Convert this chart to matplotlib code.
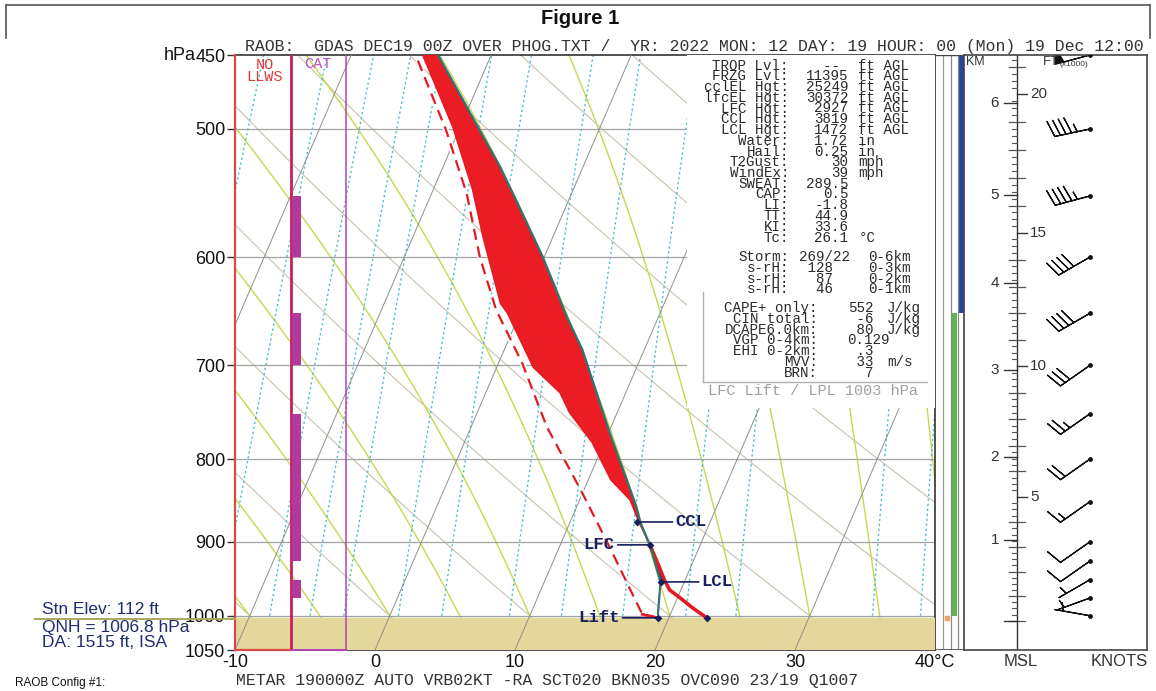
import numpy as np
import matplotlib
matplotlib.use("Agg")
import matplotlib.pyplot as plt
from matplotlib.transforms import Affine2D, blended_transform_factory
from matplotlib.font_manager import FontProperties
import matplotlib.patheffects as pe
from matplotlib.ticker import NullLocator

# ================= data =================
# environmental temperature profile (hPa, degC)
ENV_P = [1003, 989, 975, 964, 950, 934, 921, 904, 875, 848, 824, 781, 749, 728,
         702, 650, 641, 583, 545, 499, 450]
ENV_T = [22.7, 21.4, 20.2, 19.2, 18.5, 17.8, 17.2, 16.4, 14.9, 13.6, 11.6, 9.1,
         6.6, 5.3, 2.6, -0.9, -1.7, -5.0, -7.2, -10.5, -14.9]
# dew point profile
DEW_P = [1003, 998, 964, 907, 840, 764, 698, 647, 600, 548, 501, 450]
DEW_T = [19.2, 18.0, 16.4, 13.6, 10.0, 5.4, 1.7, -1.8, -4.6, -7.5, -10.9, -15.4]
# lifted parcel from the LCL upward
PAR_P = [953, 904, 875, 857, 771, 685, 654, 600, 559, 528, 485, 450]
PAR_T = [18.3, 16.4, 15.0, 14.3, 10.1, 5.6, 3.5, -0.1, -3.3, -5.9, -10.1, -13.8]
# key levels (hPa, degC)
LVL_NAMES = ["CCL", "LFC", "LCL", "Lift"]
LVL_P = [875, 904, 953, 1003]
LVL_T = [14.8, 16.4, 18.3, 19.2]
SFC_P, SFC_T = 1003, 22.7

# pressure axis / temperature axis
P_TICKS = [450, 500, 600, 700, 800, 900, 1000, 1050]
T_TICKS = [-10, 0, 10, 20, 30, 40]
T_LABELS = ["-10", "0", "10", "20", "30", "40°C"]

# background isopleths
ISOTHERMS = list(range(-100, 50, 10))
DRY_THETA = list(range(-40, 130, 10))          # degC at 1000 hPa
MOIST_T1000 = [-10, -5, 0, 5, 10, 15, 20, 25, 30, 35, 40]
MIX_RATIOS = [1, 1.5, 2, 2.5, 3, 4, 5, 7, 9, 12, 16, 20, 36, 44]

# LLWS / CAT columns (degC at the panel bottom)
LLWS_X = (-10.0, -6.0)
CAT_X = (-6.0, -2.07)
CAT_BAR_X = (-5.93, -5.29)
CAT_BOT = [600, 700, 925, 975]
CAT_TOP = [550, 650, 750, 950]

# height scale (km MSL -> hPa)
KM_H = [0, 1, 2, 3, 4, 5, 6]
KM_P = [1007, 898, 798, 705, 623, 549, 482]

# winds
WIND_P = [450, 500, 550, 600, 650, 700, 750, 800, 850, 900, 925, 950, 975, 1000]
WIND_DIR = [255, 258, 255, 240, 240, 235, 235, 235, 235, 235, 235, 240, 250, 280]
WIND_SPD = [50, 45, 45, 40, 40, 30, 25, 20, 15, 10, 10, 5, 5, 5]

# side bars (hPa)
BLUE_BAR = (650, 450)
GREEN_BAR = (1000, 650)

# stats text: labels / values / units
S1_LABELS = ["TROP Lvl:", "FRZG Lvl:", "cclEL Hgt:", "lfcEL Hgt:", "LFC Hgt:",
             "CCL Hgt:", "LCL Hgt:", "Water:", "Hail:", "T2Gust:", "WindEx:",
             "SWEAT:", "CAP:", "LI:", "TT:", "KI:", "Tc:"]
S1_VALUES = ["-- ", "11395", "25249", "30372", "2927", "3819", "1472", "1.72",
             "0.25", "30", "39", "289.5", "0.5", "-1.8", "44.9", "33.6", "26.1"]
S1_UNITS = ["ft AGL"] * 7 + ["in", "in", "mph", "mph", "", "", "", "", "", "°C"]
S2_LABELS = ["Storm:", "s-rH:", "s-rH:", "s-rH:"]
S2_VALUES = ["269/22", " 128", "  87", "  46"]
S2_UNITS = ["0-6km", "0-3km", "0-2km", "0-1km"]
S3_LABELS = ["CAPE+ only:", "CIN total:", "DCAPE6.0km:", "VGP 0-4km:",
             "EHI 0-2km:", "MVV:", "BRN:"]
S3_VALUES = ["552", " -6", " 80", "0.129", " .3", " 33", "  7"]
S3_UNITS = ["J/kg", "J/kg", "J/kg", "", "", "m/s", ""]

HEADER = ("RAOB:  GDAS DEC19 00Z OVER PHOG.TXT /  YR: 2022 MON: 12 DAY: 19 "
          "HOUR: 00 (Mon) 19 Dec 12:00")
METAR = "METAR 190000Z AUTO VRB02KT -RA SCT020 BKN035 OVC090 23/19 Q1007"

# ================= thermodynamics for reference lines =================
Rd, Cp, Lv, EPS = 287.04, 1005.7, 2.501e6, 0.622


def sat_vp(tc):
    return 6.112 * np.exp(17.67 * tc / (tc + 243.5))


def dT_dlnp(T, p):
    e = sat_vp(T - 273.15)
    rs = EPS * e / (p - e)
    return (Rd * T + Lv * rs) / (Cp + Lv * Lv * rs * EPS / (Rd * T * T))


def moist_adiabat(t1000):
    out = []
    for pend in (440.0, 1060.0):
        ps = np.geomspace(1000.0, pend, 160)
        T = t1000 + 273.15
        Ts = [T]
        for i in range(len(ps) - 1):
            h = np.log(ps[i + 1] / ps[i])
            k1 = dT_dlnp(T, ps[i])
            k2 = dT_dlnp(T + h * k1 / 2, ps[i] * np.exp(h / 2))
            T = T + h * k2
            Ts.append(T)
        out.append((ps, np.array(Ts) - 273.15))
    p = np.concatenate([out[1][0][::-1], out[0][0][1:]])
    t = np.concatenate([out[1][1][::-1], out[0][1][1:]])
    return p, t


# ================= figure =================
W, H = 1156, 691
fig = plt.figure(figsize=(W / 100, H / 100), dpi=100)
fig.patch.set_facecolor("white")
MONO = ["Liberation Mono", "DejaVu Sans Mono"]
SANS = ["Liberation Sans", "DejaVu Sans"]
renderer = fig.canvas.get_renderer()
CW = 9.9   # character pitch of the reference's monospaced text (px)


def ptext(x, y, s, **kw):
    return fig.text(x / W, 1 - y / H, s, **kw)


def block(x, y_first, lines, step, size, color, ha="left", **kw):
    """Multi-line monospace block; y_first = centre (cap middle) of line 1."""
    fp = FontProperties(family=MONO, size=size)
    _, lp_h, lp_d = renderer.get_text_width_height_descent("lp", fp, ismath=False)
    _, cap_h, _ = renderer.get_text_width_height_descent("H", fp, ismath=False)
    asc = lp_h - lp_d
    ls = (step - lp_d) / asc
    top = y_first - cap_h / 2 - (asc - cap_h)
    return fig.text(x / W, 1 - top / H, "\n".join(lines), ha=ha, va="top",
                    multialignment=ha, fontproperties=fp, color=color,
                    linespacing=ls, **kw)


def axes_px(x0, y0, x1, y1):
    return fig.add_axes([x0 / W, 1 - y1 / H, (x1 - x0) / W, (y1 - y0) / H])


ax = axes_px(235, 55, 935, 650)
ax.set_yscale("log")
ax.set_ylim(1050, 450)
ax.set_xlim(-10, 40)
ax.set_autoscale_on(False)

bb = ax.bbox
SKEW_C = 18.3   # lean of the isotherms (degC) from bottom to top of the panel
shear = SKEW_C / 50.0 * bb.width / bb.height
skew = ax.transData + Affine2D().translate(0, -bb.y0).skew(np.arctan(shear), 0).translate(0, bb.y0)
blend = blended_transform_factory(ax.transAxes, ax.transData)

p_full = np.geomspace(1050, 440, 200)
p_mix = np.geomspace(1000, 440, 120)

# isotherms
for t in ISOTHERMS:
    ax.plot([t, t], [1050, 440], transform=skew, color="#8f8f8f", lw=0.7, zorder=4)
# dry adiabats
for th in DRY_THETA:
    tt = (th + 273.15) * (p_full / 1000.0) ** (Rd / Cp) - 273.15
    ax.plot(tt, p_full, transform=skew, color="#cbc2ad", lw=0.8, zorder=1)
# moist adiabats
for t0 in MOIST_T1000:
    pp, tt = moist_adiabat(t0)
    ax.plot(tt, pp, transform=skew, color="#c6d84c", lw=1.0, zorder=1.2)
# mixing ratio lines
for w in MIX_RATIOS:
    e = w / 1000.0 * p_mix / (EPS + w / 1000.0)
    L = np.log(e / 6.112)
    td = 243.5 * L / (17.67 - L)
    ax.plot(td, p_mix, transform=skew, color="#4dbdd0", lw=1.0,
            dashes=(1.6, 2.0), zorder=1.4)

# isobars
for p in [500, 600, 700, 800, 900, 1000]:
    ax.axhline(p, color="#a3a3a3", lw=0.9, zorder=2)

# ground
ax.axhspan(1050, SFC_P, color="#e3d79c", zorder=3)

# white area behind the text block
box_bottom_p = 450 * np.exp((408 - 55) / 595 * np.log(1050 / 450))
ax.fill_between([(687 - 235) / 700, 1.0], box_bottom_p, 450, transform=blend,
                color="white", zorder=4.5, lw=0)

# LLWS / CAT columns
ax.plot([LLWS_X[0]] * 2, [1050, 450], color="#d84a4a", lw=1.6, zorder=6, clip_on=False)
ax.plot([LLWS_X[1]] * 2, [1050, 450], color="#c8205a", lw=2.0, zorder=6)
ax.plot([CAT_X[1]] * 2, [1050, 450], color="#b443b4", lw=1.1, zorder=6)
ax.plot(LLWS_X, [1050, 1050], color="#d84a4a", lw=1.6, zorder=6, clip_on=False)
ax.plot(CAT_X, [1050, 1050], color="#b443b4", lw=1.4, zorder=6, clip_on=False)
for pb, pt in zip(CAT_BOT, CAT_TOP):
    ax.fill_betweenx([pb, pt], CAT_BAR_X[0], CAT_BAR_X[1], color="#b2399e",
                     lw=0, zorder=6)

# CAPE (red) and CIN (dark) areas
env_p = np.array(ENV_P, float)
env_t = np.array(ENV_T, float)
par_p = np.array(PAR_P, float)
par_t = np.array(PAR_T, float)
up = env_p <= LVL_P[1]
cape_p = np.concatenate([env_p[up], par_p[par_p <= LVL_P[1]][::-1]])
cape_t = np.concatenate([env_t[up], par_t[par_p <= LVL_P[1]][::-1]])
ax.fill(cape_t, cape_p, transform=skew, color="#ec1c24", lw=0, zorder=7)
cin = (env_p < LVL_P[2]) & (env_p > LVL_P[1])
cin_p = np.concatenate([[LVL_P[2]], env_p[cin], [LVL_P[1]]])
cin_t = np.concatenate([[LVL_T[2]], env_t[cin], [LVL_T[1]]])
ax.fill(cin_t, cin_p, transform=skew, color="#25408a", lw=0, zorder=7)

# environment temperature
ax.plot(env_t[env_p >= LVL_P[1]], env_p[env_p >= LVL_P[1]], transform=skew,
        color="#e31a22", lw=2.6, zorder=8, solid_capstyle="round")
ax.plot(env_t[up], env_p[up], transform=skew, color="#e31a22", lw=1.0, zorder=8)
# parcel
ax.plot(par_t, par_p, transform=skew, color="#2f7475", lw=1.6, zorder=8.5)
ax.plot([LVL_T[3], LVL_T[2]], [LVL_P[3], LVL_P[2]], transform=skew,
        color="#2f7475", lw=1.6, zorder=8.5)
# dew point (dashed)
ax.plot(DEW_T, DEW_P, transform=skew, color="#e31a22", lw=1.6,
        dashes=(5, 3), zorder=9,
        path_effects=[pe.Stroke(linewidth=4.0, foreground="white"), pe.Normal()])
ax.plot(DEW_T[:2], DEW_P[:2], transform=skew, color="#e31a22", lw=2.0, zorder=9)

# markers and labels for key levels
navy = "#17205c"
ax.scatter(LVL_T + [SFC_T], LVL_P + [SFC_P], transform=skew, s=16,
           color=navy, zorder=11, marker="D", linewidths=0)
offs = {"CCL": (38, 0), "LFC": (-35, 0), "LCL": (41, 0), "Lift": (-38, 0)}
for name, p, t in zip(LVL_NAMES, LVL_P, LVL_T):
    dx, dy = offs[name]
    ax.annotate(name, xy=(t, p), xycoords=skew, xytext=(dx, dy),
                textcoords="offset pixels", ha="left" if dx > 0 else "right",
                va="center", family=MONO, fontsize=12.5, fontweight="bold",
                color=navy, zorder=12,
                arrowprops=dict(arrowstyle="-", color=navy, lw=1.2,
                                shrinkA=0, shrinkB=0))

# axes styling
for s in ["top", "bottom", "right"]:
    ax.spines[s].set_color("#333333")
    ax.spines[s].set_linewidth(1.2)
ax.spines["left"].set_visible(False)
ax.set_yticks(P_TICKS)
ax.set_yticklabels([str(p) for p in P_TICKS], family=SANS, fontsize=13,
                   color="#111111")
ax.yaxis.set_minor_locator(NullLocator())
ax.tick_params(axis="y", length=6, width=1.0, pad=1, color="#333333")
ax.set_xticks(T_TICKS)
ax.set_xticklabels(T_LABELS, family=SANS, fontsize=13, color="#111111")
ax.tick_params(axis="x", length=0, pad=3)

# ================= side strips =================
axs = axes_px(936, 55, 964, 650)
axs.set_yscale("log")
axs.set_ylim(1050, 450)
axs.set_xlim(0, 28)
axs.axis("off")
for xv, col in [(7, "#9a9a9a"), (15, "#8a8a8a"), (22, "#8a8a8a")]:
    axs.axvline(xv, color=col, lw=0.9)
axs.fill_between([22, 28], BLUE_BAR[0], BLUE_BAR[1], color="#2447a0", lw=0)
axs.fill_between([15, 21], GREEN_BAR[0], GREEN_BAR[1], color="#5cb84d", lw=0)
axs.scatter([11], [SFC_P], s=8, color="#f2a16a", marker="s", zorder=5)
axs.axhline(1050, color="#444444", lw=1.2)
axs.axhline(450, color="#444444", lw=1.0)

# ================= height / wind panel =================
axw = axes_px(964, 55, 1147, 650)
axw.set_yscale("log")
axw.set_ylim(1050, 450)
axw.set_xlim(0, 183)
axw.set_xticks([])
axw.set_yticks([])
axw.yaxis.set_minor_locator(NullLocator())
for s in axw.spines.values():
    s.set_color("#444444")
    s.set_linewidth(1.2)

AX_X = 53
axw.axvline(AX_X, color="#333333", lw=1.0)
lnp = np.log(np.array(KM_P, float))


def h2p(hkm):
    hkm = np.asarray(hkm, float)
    slope_hi = (lnp[-1] - lnp[-2]) / (KM_H[-1] - KM_H[-2])
    v = np.interp(hkm, KM_H, lnp)
    v = np.where(hkm > KM_H[-1], lnp[-1] + (hkm - KM_H[-1]) * slope_hi, v)
    return np.exp(v)


ft_all = np.arange(0, 21500, 250)
for ft in ft_all:
    p = float(h2p(ft * 0.3048 / 1000))
    if ft % 5000 == 0 and ft > 0:
        axw.plot([AX_X, AX_X + 10], [p, p], color="#333333", lw=1.0)
        axw.text(AX_X + 13, p, str(ft // 1000), ha="left", va="center",
                 family=SANS, fontsize=11, color="#333333")
    elif ft % 1000 == 0:
        axw.plot([AX_X - 8, AX_X + 8], [p, p], color="#555555", lw=0.9)
    else:
        axw.plot([AX_X - 5, AX_X], [p, p], color="#555555", lw=0.8)
for h, p in zip(KM_H, KM_P):
    axw.plot([AX_X - 13, AX_X], [p, p], color="#333333", lw=1.0)
    if h > 0:
        axw.text(AX_X - 18, p, str(h), ha="right", va="center", family=SANS,
                 fontsize=11, color="#333333")

# wind barbs
wd = np.radians(np.array(WIND_DIR, float))
ws = np.array(WIND_SPD, float)
U = -ws * np.sin(wd)
V = -ws * np.cos(wd)
bx = np.full(len(WIND_P), 126.0)
axw.barbs(bx, WIND_P, U, V, length=7.2, pivot="tip", color="#111111",
          linewidth=0.9, sizes=dict(spacing=0.16, height=0.45))
axw.scatter(bx, WIND_P, s=6, color="#111111", zorder=5)

# ================= texts =================
ptext(580, 18, "Figure 1", ha="center", va="center", family=SANS,
      fontsize=14.5, fontweight="bold", color="#111111")
fig.add_artist(plt.Line2D([6 / W, 1150 / W], [1 - 5 / H, 1 - 5 / H],
                          color="#555555", lw=1.2))
fig.add_artist(plt.Line2D([6 / W, 6 / W], [1 - 5 / H, 1 - 38 / H],
                          color="#555555", lw=1.2))
fig.add_artist(plt.Line2D([1150 / W, 1150 / W], [1 - 5 / H, 1 - 38 / H],
                          color="#555555", lw=1.2))

ptext(245, 47, HEADER, ha="left", va="center", family=MONO, fontsize=11.9,
      color="#333333")
ptext(196, 55, "hPa", ha="right", va="center", family=SANS, fontsize=13,
      color="#111111")
ptext(236, 680, METAR, ha="left", va="center", family=MONO, fontsize=11.9,
      color="#333333")
ptext(15, 683, "RAOB Config #1:", ha="left", va="center", family=SANS,
      fontsize=8.5, color="#111111")

block(265, 64, ["NO", "LLWS"], 12, 11, "#e03a3a", ha="center")
ptext(318, 64, "CAT", ha="center", va="center", family=MONO, fontsize=11,
      color="#c04cc0")

# station info
fig.add_artist(plt.Line2D([35 / W, 235 / W], [1 - 619 / H, 1 - 619 / H],
                          color="#a9a85a", lw=1.4))
stn_col = "#1f2d6e"
ptext(42, 609, "Stn Elev: 112 ft", ha="left", va="center", family=SANS,
      fontsize=12.5, color=stn_col)
ptext(42, 635, "QNH = 1006.8 hPa\nDA: 1515 ft, ISA", ha="left", va="center",
      family=SANS, fontsize=12.5, color=stn_col, linespacing=0.95)

# stats block (columns placed on the reference's character grid)
tc = "#2a2a2a"
FS = 10.2
X1 = 690
block(X1 + 10 * CW, 64.5, S1_LABELS, 10.75, FS, tc, ha="right")
block(X1 + 16 * CW, 64.5, S1_VALUES, 10.75, FS, tc, ha="right")
block(X1 + 17 * CW, 64.5, S1_UNITS, 10.75, FS, tc, ha="left")
block(X1 + 10 * CW, 256, S2_LABELS, 10.8, FS, tc, ha="right")
block(X1 + 11 * CW, 256, S2_VALUES, 10.8, FS, tc, ha="left")
block(X1 + 18 * CW, 256, S2_UNITS, 10.8, FS, tc, ha="left")
X3 = 709
block(X3 + 11 * CW, 307, S3_LABELS, 10.8, FS, tc, ha="right")
block(X3 + 14 * CW, 307, S3_VALUES, 10.8, FS, tc, ha="left")
block(X3 + 18 * CW, 307, S3_UNITS, 10.8, FS, tc, ha="left")
fig.add_artist(plt.Line2D([703 / W, 703 / W], [1 - 292 / H, 1 - 382 / H],
                          color="#b0b0b0", lw=1.0))
fig.add_artist(plt.Line2D([703 / W, 927 / W], [1 - 382 / H, 1 - 382 / H],
                          color="#b0b0b0", lw=1.0))
ptext(813, 391, "LFC Lift / LPL 1003 hPa", ha="center", va="center",
      family=MONO, fontsize=11, color="#a0a0a0")

# panel labels
ptext(966, 62, "KM", ha="left", va="center", family=SANS, fontsize=9,
      color="#333333")
ptext(1043, 62, "FT", ha="left", va="center", family=SANS, fontsize=9.5,
      color="#333333")
ptext(1060, 65, "(x1000)", ha="left", va="center", family=SANS, fontsize=6,
      color="#333333")
ptext(1021, 662, "MSL", ha="center", va="center", family=SANS, fontsize=12,
      color="#333333")
ptext(1119, 662, "KNOTS", ha="center", va="center", family=SANS, fontsize=12,
      color="#333333")

fig.savefig("out.png", dpi=100, facecolor="white")
